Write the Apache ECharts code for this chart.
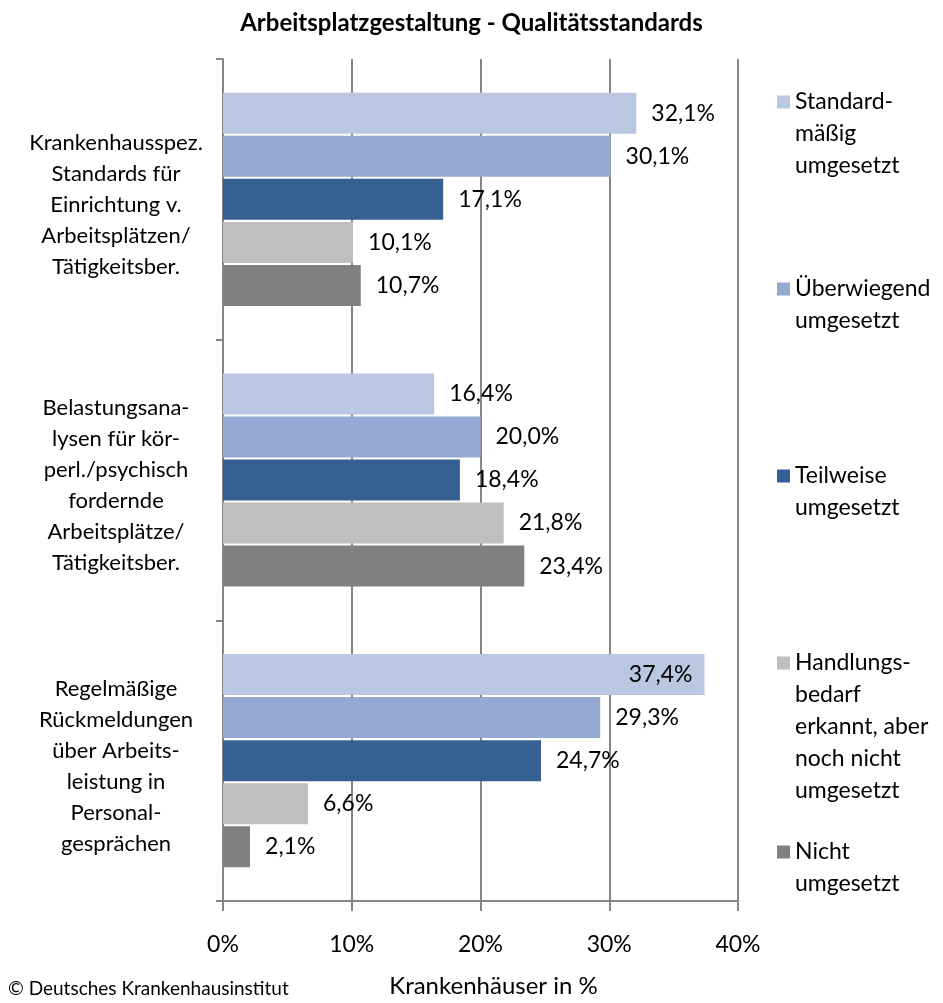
<!DOCTYPE html>
<html>
<head>
<meta charset="utf-8">
<script src="https://cdn.jsdelivr.net/npm/echarts@6/dist/echarts.min.js"></script>
<style>
  html, body { margin: 0; padding: 0; background: #fff; }
  #chart { width: 943px; height: 1003px; }
</style>
</head>
<body>
<div id="chart"></div>
<script>
// categories (y axis, top to bottom)
const categories = [
  "Krankenhausspez.\nStandards für\nEinrichtung v.\nArbeitsplätzen/\nTätigkeitsber.",
  "Belastungsana-\nlysen für kör-\nperl./psychisch\nfordernde\nArbeitsplätze/\nTätigkeitsber.",
  "Regelmäßige\nRückmeldungen\nüber Arbeits-\nleistung in\nPersonal-\ngesprächen"
];

const seriesNames = [
  "Standardmäßig umgesetzt",
  "Überwiegend umgesetzt",
  "Teilweise umgesetzt",
  "Handlungsbedarf erkannt, aber noch nicht umgesetzt",
  "Nicht umgesetzt"
];
// how the legend text is broken into lines
const legendLines = [
  ["Standard-", "mäßig", "umgesetzt"],
  ["Überwiegend", "umgesetzt"],
  ["Teilweise", "umgesetzt"],
  ["Handlungs-", "bedarf", "erkannt, aber", "noch nicht", "umgesetzt"],
  ["Nicht", "umgesetzt"]
];

const standardmaessig = [32.1, 16.4, 37.4];
const ueberwiegend = [30.1, 20.0, 29.3];
const teilweise = [17.1, 18.4, 24.7];
const handlungsbedarf = [10.1, 21.8, 6.6];
const nicht = [10.7, 23.4, 2.1];

const xTicks = [0, 10, 20, 30, 40];

const colors = ["#B9C7E1", "#95A9D2", "#366092", "#BFBFBF", "#808080"];
const allValues = [standardmaessig, ueberwiegend, teilweise, handlungsbedarf, nicht];

const font = "Lato";
const legendCenters = [102, 289, 476, 663, 852];
const LH = 32;

let myChart = echarts.init(document.getElementById("chart"));

function fmt(v) {
  return v.toFixed(1).replace(".", ",") + "%";
}

let legends = seriesNames.map(function (name, i) {
  let lines = legendLines[i];
  let n = lines.length;
  // pad with empty lines on top so the icon sits on the first text line
  let text = new Array(n - 1).fill("").concat(lines).join("\n");
  return {
    data: [name],
    left: 777,
    top: legendCenters[i] - (2 * n - 1) * LH / 2,
    padding: 0,
    icon: "rect",
    itemWidth: 13,
    itemHeight: 13,
    selectedMode: false,
    formatter: function () { return text; },
    textStyle: { fontFamily: font, fontSize: 23, lineHeight: LH, color: "#000" }
  };
});

let series = seriesNames.map(function (name, i) {
  return {
    name: name,
    type: "bar",
    barWidth: 41,
    barGap: "5%",
    itemStyle: { color: colors[i] },
    label: {
      show: true,
      position: "right",
      distance: 15,
      fontFamily: font,
      fontSize: 23,
      color: "#000",
      formatter: function (p) { return fmt(p.value); }
    },
    data: allValues[i].map(function (v) {
      // long bars get their label inside the bar end
      return v > 35 ? { value: v, label: { position: "insideRight", distance: 12 } } : v;
    })
  };
});

let option = {
  animation: false,
  title: {
    text: "Arbeitsplatzgestaltung - Qualitätsstandards",
    left: "center",
    top: 6,
    textStyle: { fontFamily: font, fontSize: 24, fontWeight: "bold", color: "#000" }
  },
  legend: legends,
  grid: { left: 223, right: 205, top: 59, bottom: 97 },
  xAxis: {
    type: "value",
    min: xTicks[0],
    max: xTicks[xTicks.length - 1],
    interval: 10,
    name: "Krankenhäuser in %",
    nameLocation: "middle",
    nameGap: 73,
    nameTextStyle: { fontFamily: font, fontSize: 24, color: "#000", padding: [0, 0, 0, 26] },
    axisLine: { show: true, lineStyle: { color: "#868686", width: 2 } },
    axisTick: { show: true, length: 10, lineStyle: { color: "#868686", width: 2 } },
    splitLine: { show: true, lineStyle: { color: "#868686", width: 2 } },
    axisLabel: {
      margin: 32,
      fontFamily: font,
      fontSize: 23,
      color: "#000",
      formatter: "{value}%"
    }
  },
  yAxis: {
    type: "category",
    inverse: true,
    data: categories,
    axisLine: { show: true, lineStyle: { color: "#868686", width: 2 } },
    axisTick: { show: true, length: 7, lineStyle: { color: "#868686", width: 2 } },
    axisLabel: {
      interval: 0,
      align: "center",
      margin: 107,
      color: "#000",
      // small spacer line on top pushes the block a bit lower
      formatter: function (v) {
        return "{s| }\n{a|" + v.split("\n").join("}\n{a|") + "}";
      },
      rich: {
        s: { fontSize: 4, lineHeight: 11 },
        a: { fontFamily: font, fontSize: 22, lineHeight: 31, color: "#000", align: "center" }
      }
    }
  },
  graphic: [
    {
      type: "text",
      left: 8,
      top: 979,
      style: { text: "© Deutsches Krankenhausinstitut", fontFamily: font, fontSize: 19, fill: "#000" }
    }
  ],
  series: series
};

myChart.setOption(option);
</script>
</body>
</html>
